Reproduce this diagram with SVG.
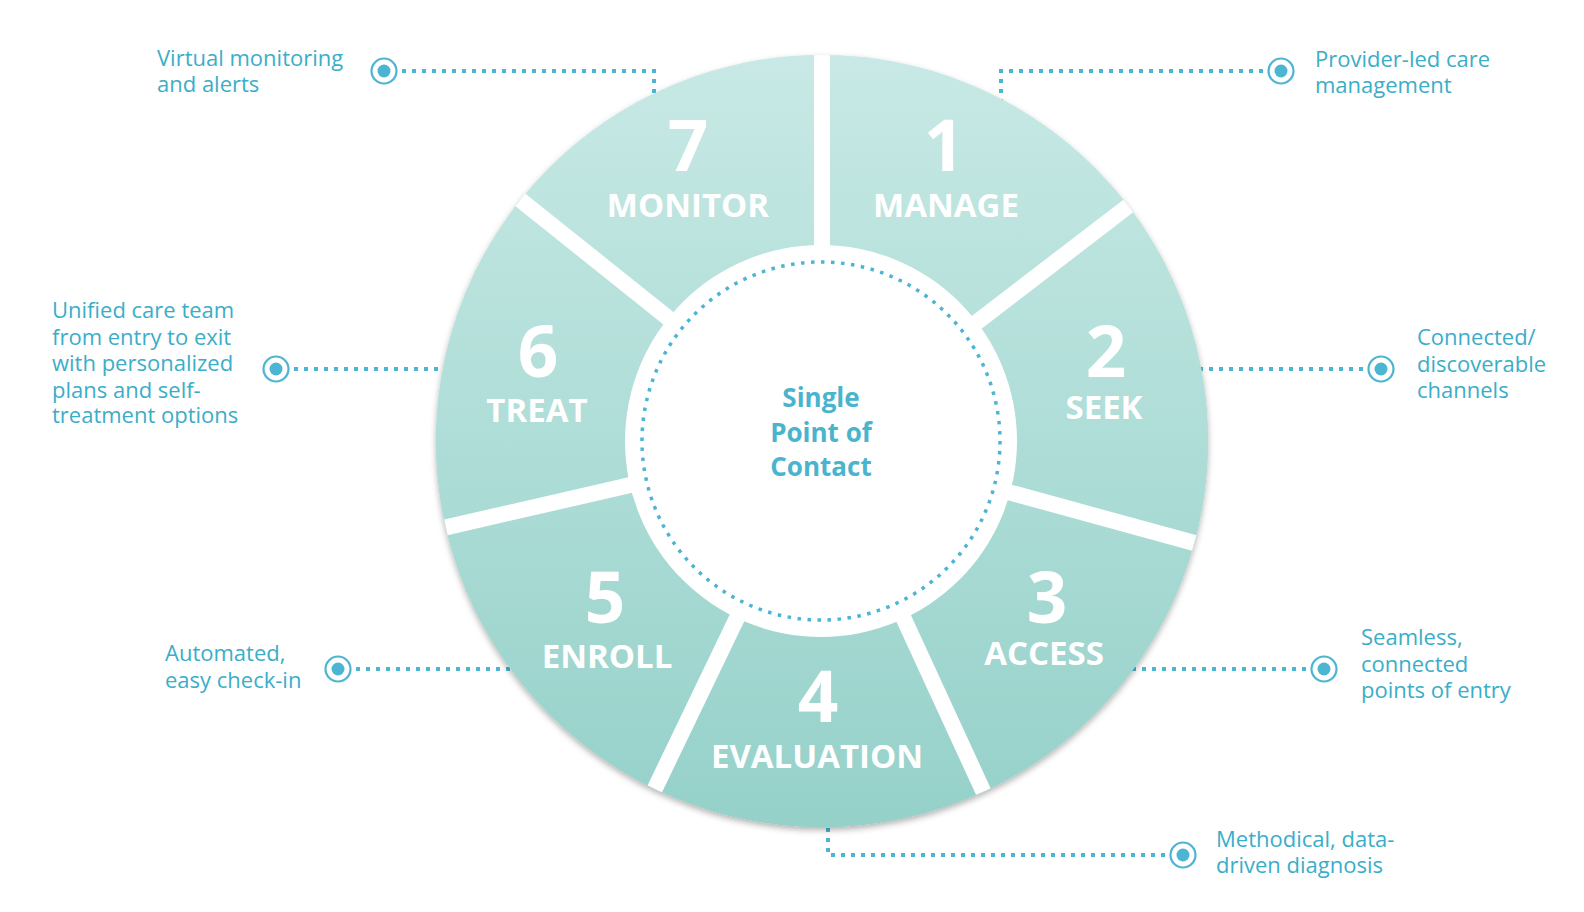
<svg xmlns="http://www.w3.org/2000/svg" width="1584" height="912" viewBox="0 0 1584 912">
  <style>
    .conn { fill: none; stroke: #4bb5d2; stroke-width: 4; stroke-dasharray: 4 6; }
    .ring { fill: #ffffff; stroke: #4bb5d2; stroke-width: 2.2; }
    .dot { fill: #4bb5d2; }
    .desc { font-family: "Open Sans", "Liberation Sans", sans-serif; font-size: 22px; fill: #3aaec8; }
    .num { font-family: "Open Sans", "Liberation Sans", sans-serif; font-weight: 700; font-size: 71px; fill: #ffffff; text-anchor: middle; }
    .lbl { font-family: "Open Sans", "Liberation Sans", sans-serif; font-weight: 700; font-size: 33px; fill: #ffffff; text-anchor: middle; }
    .center { font-family: "Open Sans", "Liberation Sans", sans-serif; font-weight: 700; font-size: 26px; fill: #4ab4ce; text-anchor: middle; }
    .seg { fill: url(#wheelGrad); }
    .divider { stroke: #ffffff; stroke-width: 16; fill: none; }
  </style>
  <defs>
    <linearGradient id="wheelGrad" gradientUnits="userSpaceOnUse" x1="0" y1="55" x2="0" y2="827">
      <stop offset="0" stop-color="#c8e9e5"/>
      <stop offset="1" stop-color="#95d1c9"/>
    </linearGradient>
    <filter id="shadow" x="-10%" y="-10%" width="120%" height="120%">
      <feDropShadow dx="0" dy="3" stdDeviation="3" flood-color="#000000" flood-opacity="0.3"/>
    </filter>
    <clipPath id="wheelClip">
      <circle cx="822" cy="441" r="386"/>
    </clipPath>
  </defs>

  <rect x="0" y="0" width="1584" height="912" fill="#ffffff"/>

  <!-- connectors -->
  <g id="connectors">
    <path class="conn" d="M402 71 H654 V96"/>
    <path class="conn" d="M1263 71 H1001 V102"/>
    <path class="conn" d="M294 369 H442"/>
    <path class="conn" d="M1363 369 H1199"/>
    <path class="conn" d="M356 669 H510"/>
    <path class="conn" d="M1306 669 H1132"/>
    <path class="conn" d="M1165 855 H828 V825"/>
  </g>

  <!-- wheel base -->
  <g id="wheel-base">
    <circle cx="822" cy="441" r="386" fill="url(#wheelGrad)" filter="url(#shadow)"/>
  </g>

  <!-- segments -->
  <g id="seg-1-manage">
    <path class="seg" d="M822 441 L822 55 A386 386 0 0 1 1128.2 206 Z"/>
    <text class="num" x="944" y="171">1</text>
    <text class="lbl" x="946" y="217">MANAGE</text>
  </g>
  <g id="seg-2-seek">
    <path class="seg" d="M822 441 L1128.2 206 A386 386 0 0 1 1194.3 542.9 Z"/>
    <text class="num" x="1106" y="377">2</text>
    <text class="lbl" x="1104" y="419">SEEK</text>
  </g>
  <g id="seg-3-access">
    <path class="seg" d="M822 441 L1194.3 542.9 A386 386 0 0 1 983.3 791.7 Z"/>
    <text class="num" x="1047" y="623">3</text>
    <text class="lbl" x="1044" y="665">ACCESS</text>
  </g>
  <g id="seg-4-evaluation">
    <path class="seg" d="M822 441 L983.3 791.7 A386 386 0 0 1 654.6 788.8 Z"/>
    <text class="num" x="818" y="722">4</text>
    <text class="lbl" x="817" y="768">EVALUATION</text>
  </g>
  <g id="seg-5-enroll">
    <path class="seg" d="M822 441 L654.6 788.8 A386 386 0 0 1 445.7 527.2 Z"/>
    <text class="num" x="605" y="623">5</text>
    <text class="lbl" x="607" y="668">ENROLL</text>
  </g>
  <g id="seg-6-treat">
    <path class="seg" d="M822 441 L445.7 527.2 A386 386 0 0 1 520.3 200.2 Z"/>
    <text class="num" x="538" y="377">6</text>
    <text class="lbl" x="537" y="422">TREAT</text>
  </g>
  <g id="seg-7-monitor">
    <path class="seg" d="M822 441 L520.3 200.2 A386 386 0 0 1 822 55 Z"/>
    <text class="num" x="688" y="171">7</text>
    <text class="lbl" x="688" y="217">MONITOR</text>
  </g>

  <!-- dividers -->
  <g id="wheel-dividers" clip-path="url(#wheelClip)">
    <line class="divider" x1="822" y1="441" x2="822" y2="40"/>
    <line class="divider" x1="822" y1="441" x2="1140" y2="197"/>
    <line class="divider" x1="822" y1="441" x2="1209" y2="547"/>
    <line class="divider" x1="822" y1="441" x2="990" y2="806"/>
    <line class="divider" x1="822" y1="441" x2="648" y2="803"/>
    <line class="divider" x1="822" y1="441" x2="430" y2="531"/>
    <line class="divider" x1="822" y1="441" x2="508" y2="190"/>
  </g>

  <!-- center -->
  <g id="center">
    <circle cx="821" cy="441" r="196" fill="#ffffff"/>
    <circle cx="821" cy="441" r="179" fill="none" stroke="#4bb5d2" stroke-width="3.5" stroke-dasharray="3.5 6.5" pathLength="1120"/>
    <text class="center" x="821" y="407">Single</text>
    <text class="center" x="821" y="442">Point of</text>
    <text class="center" x="821" y="476">Contact</text>
  </g>

  <!-- callouts -->
  <g id="note-monitor">
    <circle class="ring" cx="384" cy="71" r="12.5"/>
    <circle class="dot" cx="384" cy="71" r="6.5"/>
    <text class="desc" x="157" y="66">Virtual monitoring</text>
    <text class="desc" x="157" y="92">and alerts</text>
  </g>
  <g id="note-manage">
    <circle class="ring" cx="1281" cy="71" r="12.5"/>
    <circle class="dot" cx="1281" cy="71" r="6.5"/>
    <text class="desc" x="1315" y="67">Provider-led care</text>
    <text class="desc" x="1315" y="93">management</text>
  </g>
  <g id="note-treat">
    <circle class="ring" cx="276" cy="369" r="12.5"/>
    <circle class="dot" cx="276" cy="369" r="6.5"/>
    <text class="desc" x="52" y="318">Unified care team</text>
    <text class="desc" x="52" y="344.5">from entry to exit</text>
    <text class="desc" x="52" y="371">with personalized</text>
    <text class="desc" x="52" y="397.5">plans and self-</text>
    <text class="desc" x="52" y="423">treatment options</text>
  </g>
  <g id="note-seek">
    <circle class="ring" cx="1381" cy="369" r="12.5"/>
    <circle class="dot" cx="1381" cy="369" r="6.5"/>
    <text class="desc" x="1417" y="345">Connected/</text>
    <text class="desc" x="1417" y="372">discoverable</text>
    <text class="desc" x="1417" y="398">channels</text>
  </g>
  <g id="note-enroll">
    <circle class="ring" cx="338" cy="669" r="12.5"/>
    <circle class="dot" cx="338" cy="669" r="6.5"/>
    <text class="desc" x="165" y="661">Automated,</text>
    <text class="desc" x="165" y="688">easy check-in</text>
  </g>
  <g id="note-access">
    <circle class="ring" cx="1324" cy="669" r="12.5"/>
    <circle class="dot" cx="1324" cy="669" r="6.5"/>
    <text class="desc" x="1361" y="645">Seamless,</text>
    <text class="desc" x="1361" y="672">connected</text>
    <text class="desc" x="1361" y="698">points of entry</text>
  </g>
  <g id="note-evaluation">
    <circle class="ring" cx="1183" cy="855" r="12.5"/>
    <circle class="dot" cx="1183" cy="855" r="6.5"/>
    <text class="desc" x="1216" y="847">Methodical, data-</text>
    <text class="desc" x="1216" y="873">driven diagnosis</text>
  </g>
</svg>
